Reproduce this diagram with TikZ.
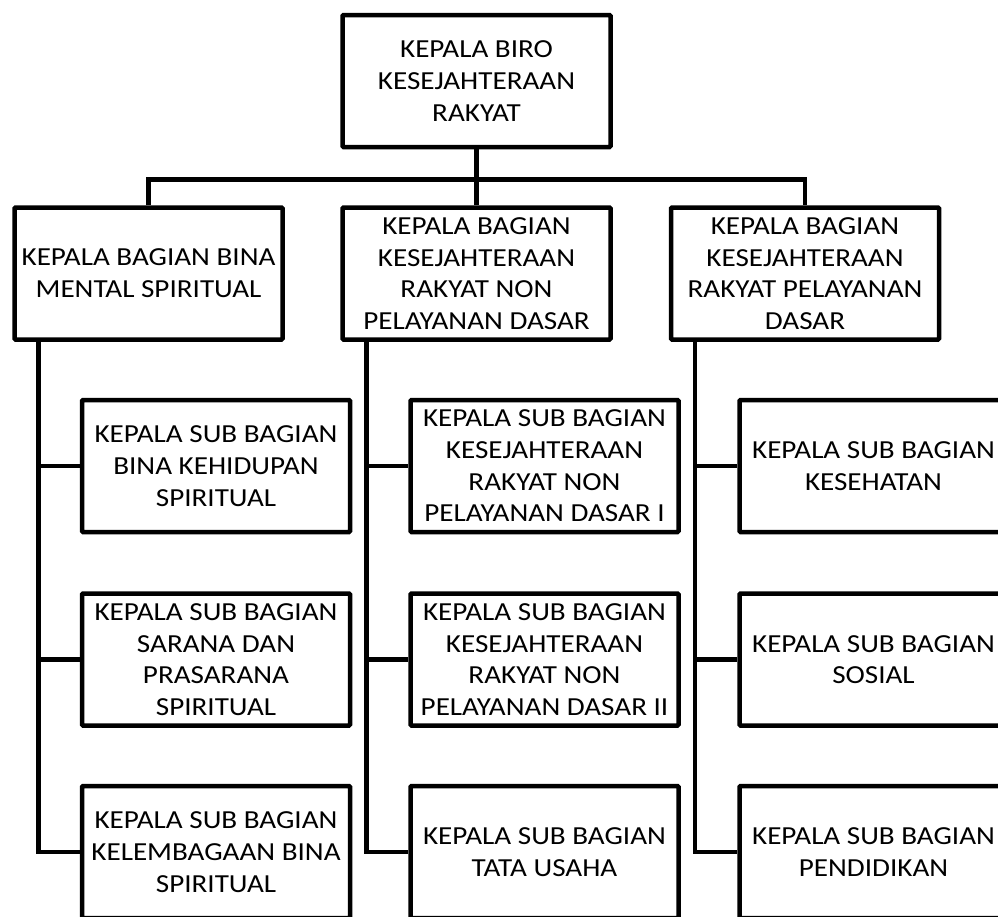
\documentclass[tikz,border=0pt]{standalone}
\usepackage{fontspec}
\setmainfont{Carlito}[FakeStretch=1.12]
\usepackage{tikz}
\usetikzlibrary{positioning}

\begin{document}
\begin{tikzpicture}[x=1pt,y=-1pt,line width=4.5pt,
      box/.style={draw,rounded corners=1pt,minimum width=268pt,minimum height=132pt,
        inner sep=0pt,align=center,font=\fontsize{26}{31.7}\selectfont}]
      \clip (0,0) rectangle (998,916);

      \node[box] (biro) at (476.5,81) {KEPALA BIRO\\KESEJAHTERAAN\\RAKYAT};

      \node[box] (bina)  at (148.5,273.5) {KEPALA BAGIAN BINA\\MENTAL SPIRITUAL};
      \node[box] (nonpd) at (476.5,273.5) {KEPALA BAGIAN\\KESEJAHTERAAN\\RAKYAT NON\\PELAYANAN DASAR};
      \node[box] (pd)    at (805,273.5) {KEPALA BAGIAN\\KESEJAHTERAAN\\RAKYAT PELAYANAN\\DASAR};

      \node[box] (bina1) at (216,466)   {KEPALA SUB BAGIAN\\BINA KEHIDUPAN\\SPIRITUAL};
      \node[box] (bina2) at (216,659.5) {KEPALA SUB BAGIAN\\SARANA DAN\\PRASARANA\\SPIRITUAL};
      \node[box] (bina3) at (216,852)   {KEPALA SUB BAGIAN\\KELEMBAGAAN BINA\\SPIRITUAL};

      \node[box] (nonpd1) at (544.5,466)   {KEPALA SUB BAGIAN\\KESEJAHTERAAN\\RAKYAT NON\\PELAYANAN DASAR I};
      \node[box] (nonpd2) at (544.5,659.5) {KEPALA SUB BAGIAN\\KESEJAHTERAAN\\RAKYAT NON\\PELAYANAN DASAR II};
      \node[box] (nonpd3) at (544.5,852)   {KEPALA SUB BAGIAN\\TATA USAHA};

      \node[box] (pd1) at (873.5,466)   {KEPALA SUB BAGIAN\\KESEHATAN};
      \node[box] (pd2) at (873.5,659.5) {KEPALA SUB BAGIAN\\SOSIAL};
      \node[box] (pd3) at (873.5,852)   {KEPALA SUB BAGIAN\\PENDIDIKAN};

      % top level
      \draw (biro.south) -- ++(0,30) coordinate (bar);
      \draw (bina.north) |- (bar) -| (pd.north);
      \draw (bar) -- (nonpd.north);

      % spines
      \foreach \main in {bina,nonpd,pd} {
        \draw ([xshift=26pt]\main.south west) coordinate (\main s) |- (\main3.west);
        \draw (\main s |- \main1.west) -- (\main1.west);
        \draw (\main s |- \main2.west) -- (\main2.west);
      }

\end{tikzpicture}
\end{document}
